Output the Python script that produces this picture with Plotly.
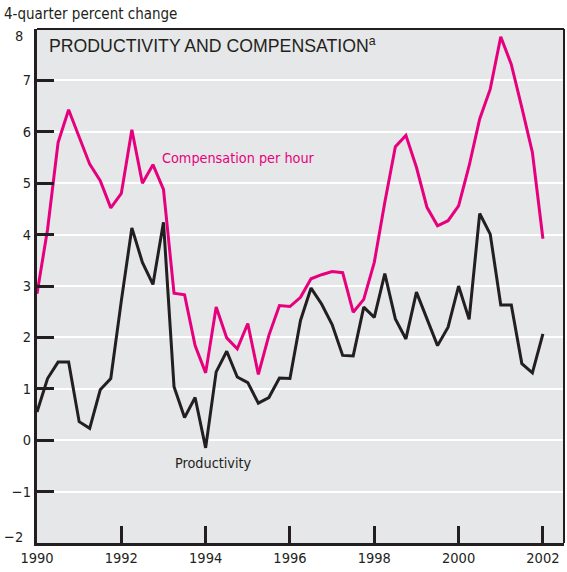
import plotly.graph_objects as go

# Quarterly observations, 1990:Q1 .. 2002:Q1 (plotted at year + 0.25*i)
start_year = 1990
compensation = [2.85, 4.1, 5.79, 6.43, 5.9, 5.37, 5.05, 4.52, 4.80, 6.04, 5.0, 5.36,
                4.88, 2.86, 2.83, 1.84, 1.31, 2.59, 1.99, 1.78, 2.27, 1.28, 2.04, 2.62,
                2.60, 2.78, 3.14, 3.22, 3.28, 3.26, 2.49, 2.74, 3.46, 4.63, 5.71, 5.93,
                5.31, 4.53, 4.17, 4.27, 4.56, 5.34, 6.25, 6.83, 7.85, 7.31, 6.47, 5.6, 3.92]
productivity = [0.55, 1.2, 1.52, 1.52, 0.36, 0.23, 0.98, 1.2, 2.71, 4.13, 3.46, 3.03,
                4.24, 1.04, 0.44, 0.83, -0.15, 1.33, 1.73, 1.23, 1.12, 0.72, 0.83, 1.21,
                1.20, 2.33, 2.96, 2.65, 2.25, 1.65, 1.64, 2.59, 2.39, 3.24, 2.36, 1.97,
                2.88, 2.35, 1.84, 2.2, 3.0, 2.35, 4.41, 4.01, 2.63, 2.63, 1.49, 1.31, 2.07]
x_vals = [start_year + 0.25 * i for i in range(len(compensation))]

y_ticks = [-2, -1, 0, 1, 2, 3, 4, 5, 6, 7, 8]
y_ticktext = ["\u22122", "\u22121", "0", "1", "2", "3", "4", "5", "6", "7", "8"]
x_ticks = [1990, 1992, 1994, 1996, 1998, 2000, 2002]

PINK = "#e6007e"
INK = "#231f20"
BG = "#e6e7e8"
NARROW = "DejaVu Sans Condensed, Liberation Sans Narrow, sans-serif"

# end labels (top and bottom) are nudged inward as in the original, so draw them as text
inner_ticktext = ["" if v in (y_ticks[0], y_ticks[-1]) else t for v, t in zip(y_ticks, y_ticktext)]

fig = go.Figure()
fig.add_trace(go.Scatter(x=x_vals, y=compensation, mode="lines",
                         line=dict(color=PINK, width=3), name="Compensation per hour",
                         hoverinfo="skip"))
fig.add_trace(go.Scatter(x=x_vals, y=productivity, mode="lines",
                         line=dict(color=INK, width=3), name="Productivity",
                         hoverinfo="skip"))

fig.update_layout(
    width=567, height=572,
    margin=dict(l=37, r=3, t=29, b=29),
    paper_bgcolor="white", plot_bgcolor=BG,
    showlegend=False,
    font=dict(family=NARROW, size=14, color=INK),
    xaxis=dict(range=[1990, 2002.5], tickvals=x_ticks, ticktext=[str(v) for v in x_ticks],
               ticks="inside", ticklen=17, tickwidth=2.5, tickcolor=INK,
               showgrid=False, zeroline=False, showline=True, linewidth=3, linecolor=INK,
               mirror=False, tickfont=dict(family=NARROW, size=14.5, color=INK)),
    yaxis=dict(range=[-2, 8], tickvals=y_ticks, ticktext=inner_ticktext,
               ticks="inside", ticklen=17, tickwidth=2.5, tickcolor=INK,
               showgrid=True, gridcolor="white", gridwidth=2, zeroline=False,
               showline=True, linewidth=3, linecolor=INK, mirror=False,
               tickfont=dict(family=NARROW, size=14.5, color=INK)),
    shapes=[
        dict(type="line", xref="paper", yref="paper", x0=0, x1=1, y0=1, y1=1,
             line=dict(color=INK, width=2)),
        dict(type="line", xref="paper", yref="paper", x0=1, x1=1, y0=0, y1=1,
             line=dict(color=INK, width=2)),
    ],
    annotations=[
        dict(text="PRODUCTIVITY AND COMPENSATION<sup>a</sup>", xref="paper", yref="paper",
             x=0.019, y=0.969, xanchor="left", yanchor="middle", showarrow=False,
             font=dict(family="Liberation Sans, Arial, sans-serif", size=17.7, color=INK)),
        dict(text="4-quarter percent change", xref="paper", yref="paper",
             x=-0.0665, y=1.029, xanchor="left", yanchor="middle", showarrow=False,
             font=dict(family=NARROW, size=15, color=INK)),
        dict(text="Compensation per hour", x=1992.92, y=5.5, xanchor="left",
             yanchor="middle", showarrow=False, font=dict(family=NARROW, size=14.3, color=PINK)),
        dict(text="Productivity", x=1993.23, y=-0.45, xanchor="left",
             yanchor="middle", showarrow=False, font=dict(family=NARROW, size=14.3, color=INK)),
        dict(text=y_ticktext[-1], xref="paper", yref="y", x=0, y=y_ticks[-1], xshift=-12,
             yshift=-7, xanchor="right", yanchor="middle", showarrow=False,
             font=dict(family=NARROW, size=14.5, color=INK)),
        dict(text=y_ticktext[0], xref="paper", yref="y", x=0, y=y_ticks[0], xshift=-12,
             yshift=6, xanchor="right", yanchor="middle", showarrow=False,
             font=dict(family=NARROW, size=14.5, color=INK)),
    ],
)

fig.write_html("out.html", config={"displayModeBar": False},
               post_script="document.body.style.margin='0px';")
